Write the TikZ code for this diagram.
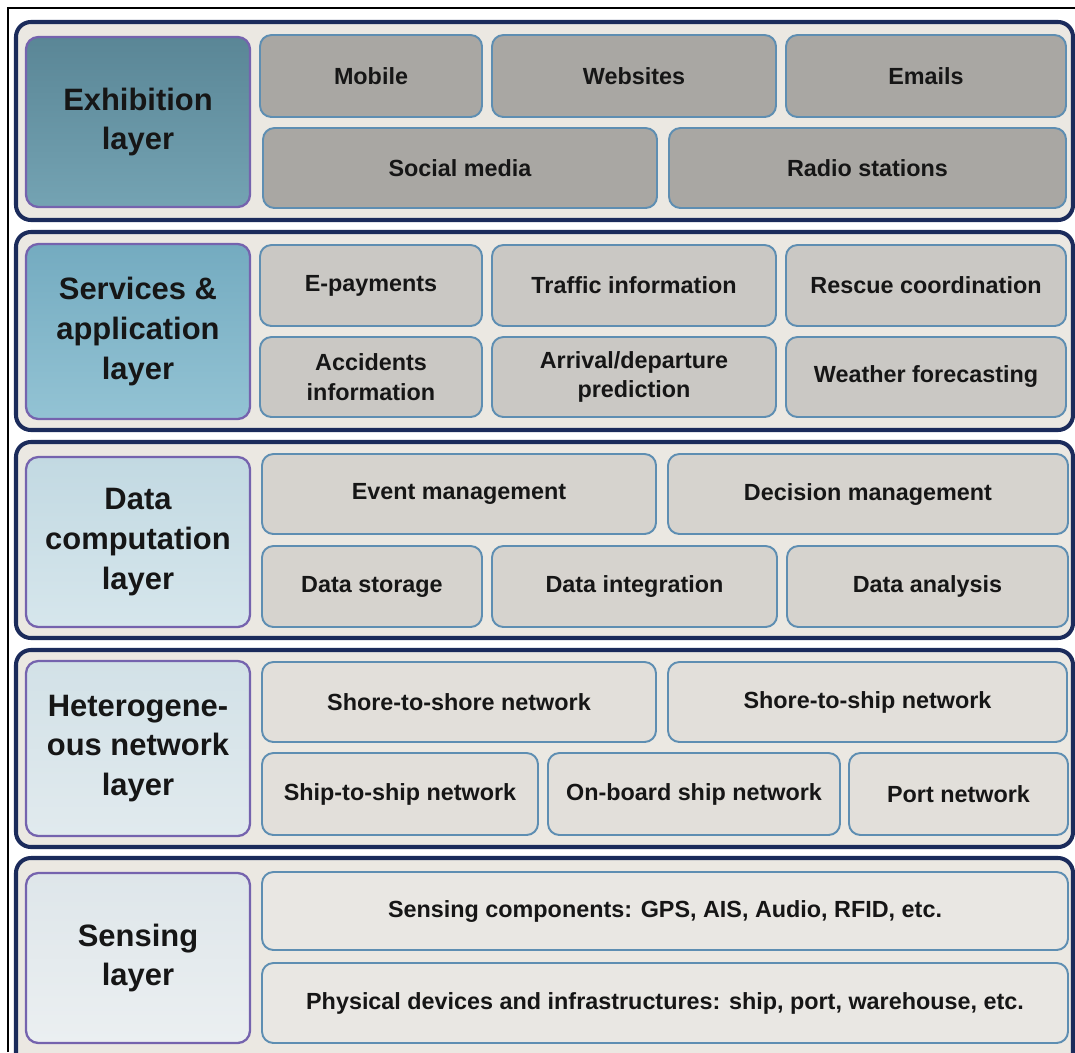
\documentclass[tikz,border=0pt]{standalone}
\usepackage{fontspec}
\setmainfont{Liberation Sans}
\usetikzlibrary{fit}

\definecolor{navy}{HTML}{1B2B5B}
\definecolor{bandbg}{HTML}{EBE8E2}
\definecolor{layerline}{HTML}{7563AE}
\definecolor{itemline}{HTML}{5E8EB2}
\definecolor{inktext}{HTML}{161616}
% layer title shades, top and bottom
\definecolor{layerAtop}{HTML}{5A8696}
\definecolor{layerAbot}{HTML}{74A3B3}
\definecolor{layerBtop}{HTML}{74ABC0}
\definecolor{layerBbot}{HTML}{93C3D4}
\definecolor{layerCtop}{HTML}{C2D9E2}
\definecolor{layerCbot}{HTML}{D6E6EC}
\definecolor{layerDtop}{HTML}{D2E1E7}
\definecolor{layerDbot}{HTML}{E1EAEE}
\definecolor{layerEtop}{HTML}{DEE6EA}
\definecolor{layerEbot}{HTML}{EBEFF1}
% item fills, top layer to bottom layer
\definecolor{itemA}{HTML}{A9A7A3}
\definecolor{itemB}{HTML}{CAC8C4}
\definecolor{itemC}{HTML}{D6D3CE}
\definecolor{itemD}{HTML}{E2DFDA}
\definecolor{itemE}{HTML}{E9E7E3}

\tikzset{
    band/.style={draw=navy, line width=2.3pt, fill=bandbg, rounded corners=8.5pt, inner sep=0pt},
    layerbox/.style={draw=layerline, line width=1.3pt, rounded corners=7pt, inner sep=0pt,
        top color=layer#1top, bottom color=layer#1bot},
    itembox/.style={draw=itemline, line width=1.1pt, rounded corners=6.5pt, inner sep=0pt, fill=#1},
    layertext/.style={align=center, text=inktext, inner sep=0pt,
        font=\fontsize{17.6}{22.7}\selectfont\bfseries},
    itemtext/.style={align=center, text=inktext, inner sep=0pt,
        font=\fontsize{13.3}{17}\selectfont\bfseries},
}

\begin{document}
\begin{tikzpicture}[x=0.02cm, y=-0.02cm]
        \clip (0,0) rectangle (1075,1052);
        \fill[white] (0,0) rectangle (1075,1052);
        \draw[line width=1.2pt] (8,1052) -- (8,8) -- (1075,8);

        % layer bands
        \node[band, fit={(16,22) (1073,220)}] (exhibitionBand) {};
        \node[band, fit={(16,232) (1073,430)}] (servicesBand) {};
        \node[band, fit={(16,442) (1073,638)}] (computationBand) {};
        \node[band, fit={(16,650) (1073,847)}] (networkBand) {};
        \node[band, fit={(16,858) (1073,1070)}] (sensingBand) {};

        % layer titles
        \node[layerbox=A, fit={(26,37) (250,207)}, label={[layertext]center:Exhibition\\layer}] (exhibitionLayer) {};
        \node[layerbox=B, fit={(26,244) (250,419)}, label={[layertext]center:Services \&\\application\\layer}] (servicesLayer) {};
        \node[layerbox=C, fit={(26,457) (250,627)}, label={[layertext]center:Data\\computation\\layer}] (computationLayer) {};
        \node[layerbox=D, fit={(26,661) (250,836)}, label={[layertext]center:Heterogene-\\ous network\\layer}] (networkLayer) {};
        \node[layerbox=E, fit={(26,873) (250,1043)}, label={[layertext]center:Sensing\\layer}] (sensingLayer) {};

        % exhibition
        \node[itembox=itemA, fit={(260,35) (482,117)}, label={[itemtext]center:Mobile}] (mobile) {};
        \node[itembox=itemA, fit={(492,35) (776,117)}, label={[itemtext]center:Websites}] (websites) {};
        \node[itembox=itemA, fit={(786,35) (1066,117)}, label={[itemtext]center:Emails}] (emails) {};
        \node[itembox=itemA, fit={(263,128) (657,208)}, label={[itemtext]center:Social media}] (socialMedia) {};
        \node[itembox=itemA, fit={(669,128) (1066,208)}, label={[itemtext]center:Radio stations}] (radioStations) {};

        % services & application
        \node[itembox=itemB, fit={(260,245) (482,326)}, label={[itemtext]center:E-payments}] (ePayments) {};
        \node[itembox=itemB, fit={(492,245) (776,326)}, label={[itemtext]center:Traffic information}] (trafficInfo) {};
        \node[itembox=itemB, fit={(786,245) (1066,326)}, label={[itemtext]center:Rescue coordination}] (rescueCoord) {};
        \node[itembox=itemB, fit={(260,337) (482,417)}, label={[itemtext]center:Accidents\\information}] (accidentsInfo) {};
        \node[itembox=itemB, fit={(492,337) (776,417)}, label={[itemtext]center:Arrival/departure\\prediction}] (arrivalPred) {};
        \node[itembox=itemB, fit={(786,337) (1066,417)}, label={[itemtext]center:Weather forecasting}] (weatherForecast) {};

        % data computation
        \node[itembox=itemC, fit={(262,454) (656,534)}, label={[itemtext]center:Event management}] (eventMgmt) {};
        \node[itembox=itemC, fit={(668,454) (1068,534)}, label={[itemtext]center:Decision management}] (decisionMgmt) {};
        \node[itembox=itemC, fit={(262,546) (482,627)}, label={[itemtext]center:Data storage}] (dataStorage) {};
        \node[itembox=itemC, fit={(492,546) (777,627)}, label={[itemtext]center:Data integration}] (dataIntegration) {};
        \node[itembox=itemC, fit={(787,546) (1068,627)}, label={[itemtext]center:Data analysis}] (dataAnalysis) {};

        % heterogeneous network
        \node[itembox=itemD, fit={(262,662) (656,742)}, label={[itemtext]center:Shore-to-shore network}] (shoreShore) {};
        \node[itembox=itemD, fit={(668,662) (1067,742)}, label={[itemtext]center:Shore-to-ship network}] (shoreShip) {};
        \node[itembox=itemD, fit={(262,753) (538,835)}, label={[itemtext]center:Ship-to-ship network}] (shipShip) {};
        \node[itembox=itemD, fit={(548,753) (840,835)}, label={[itemtext]center:On-board ship network}] (onBoard) {};
        \node[itembox=itemD, fit={(849,753) (1068,835)}, label={[itemtext]center:Port network}] (portNet) {};

        % sensing
        \node[itembox=itemE, fit={(262,872) (1068,950)}, label={[itemtext]center:Sensing components: GPS, AIS, Audio, RFID, etc.}] (sensingComp) {};
        \node[itembox=itemE, fit={(262,963) (1068,1043)}, label={[itemtext]center:Physical devices and infrastructures: ship, port, warehouse, etc.}] (physicalDev) {};
    \end{tikzpicture}
\end{document}
